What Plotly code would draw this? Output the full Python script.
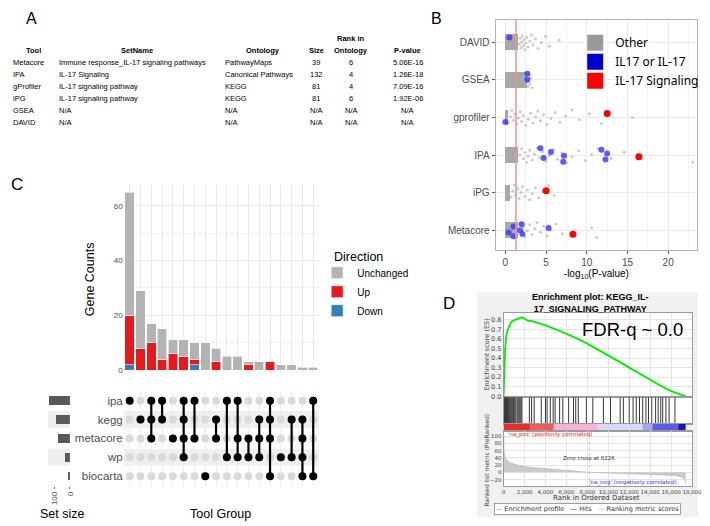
import math
import plotly.graph_objects as go

# the page body adds an 8px margin, and reference positions come out a
# little tight, so they are mapped through both before use
PAD = 8
S = 0.986
W, H = 704, 518


def fx(p):
    return min(1.0, max(0.0, (p / S - PAD) / W))


def fy(p):
    return min(1.0, max(0.0, 1 - (p / S - PAD) / H))


def fpage(p):
    # direct page pixel -> paper fraction (for things that must stay in view)
    return (p - PAD) / W


def jitter(i, k=0):
    # fixed spread inside a category band, stands in for geom_jitter
    return (((i + 1) * 0.6180339887 + k * 0.29) % 1 - 0.5) * 0.42


# ---------------- Panel A : table ----------------
tbl_tools = ["Metacore", "IPA", "gProfiler", "iPG", "GSEA", "DAVID"]
tbl_sets = ["Immune response_IL-17 signaling pathways", "IL-17 Signaling",
            "IL-17 signaling pathway", "IL-17 signaling pathway", "N/A", "N/A"]
tbl_ontology = ["PathwayMaps", "Canonical Pathways", "KEGG", "KEGG", "N/A", "N/A"]
tbl_size = ["39", "132", "81", "81", "N/A", "N/A"]
tbl_rank = ["6", "4", "4", "6", "N/A", "N/A"]
tbl_pval = ["5.06E-16", "1.26E-18", "7.09E-16", "1.92E-06", "N/A", "N/A"]

# ---------------- Panel B : -log10 p by tool ----------------
b_tools = ["DAVID", "GSEA", "gprofiler", "IPA", "iPG", "Metacore"]
b_dense = [1.6, 2.7, 0.35, 1.6, 0.6, 1.6]   # where "Other" pathways pile up
other_david = [1.7, 1.8, 1.9, 2.0, 2.1, 2.2, 2.3, 2.4, 2.5, 2.6, 2.8, 3.0, 3.2, 3.4, 3.7, 4.0, 4.4, 4.9, 5.4, 6.6]
other_gsea = [2.75, 2.8, 2.9, 3.0, 3.1, 3.3]
other_gprofiler = [0.2, 0.4, 0.6, 0.8, 1.0, 1.2, 1.4, 1.6, 1.8, 2.0, 2.2, 2.5, 2.8, 3.1, 3.4, 3.7, 4.0,
                   4.3, 4.7, 5.1, 5.6, 6.1, 6.7, 7.4, 8.2, 9.1, 10.3, 11.8, 15.6]
other_ipa = [1.8, 2.0, 2.2, 2.4, 2.6, 2.8, 3.0, 3.3, 3.6, 3.9, 4.2, 4.6, 5.0, 5.4, 5.9, 6.4, 6.9, 7.5,
             8.2, 9.0, 9.8, 10.6, 11.4, 13.0, 14.6, 23.0]
other_ipg = [0.7, 0.9, 1.1, 1.3, 1.5, 1.7, 1.9, 2.1, 2.4, 2.7, 3.0, 3.3, 3.7, 4.1, 4.6, 5.3, 6.0]
other_metacore = [1.8, 2.0, 2.2, 2.4, 2.7, 3.0, 3.3, 3.6, 3.9, 4.3, 4.7, 5.1, 5.6, 6.2, 7.0, 10.6, 11.2]
il17_david = [0.5]
il17_gsea = [2.7, 2.7]
il17_gprofiler = [0.0]
il17_ipa = [4.3, 4.7, 5.6, 7.1, 7.2, 11.8, 12.3, 12.5]
il17_ipg = []
il17_metacore = [0.4, 1.0, 1.0, 1.8, 2.0, 2.1, 5.3]
sig_tools = ["gprofiler", "IPA", "iPG", "Metacore"]
sig_scores = [12.5, 16.4, 5.0, 8.3]
p_cut = 0.05

# ---------------- Panel C : upset ----------------
c_sets = ["ipa", "kegg", "metacore", "wp", "biocarta"]
c_groups = ["ipa", "kegg", "ipa&kegg&metacore", "ipa&kegg", "metacore", "ipa&kegg&metacore&wp",
            "ipa&metacore", "biocarta", "kegg&metacore", "ipa&wp", "ipa&metacore&wp", "metacore&wp",
            "kegg&metacore&wp", "ipa&kegg&metacore&biocarta", "wp", "kegg&wp",
            "kegg&metacore&wp&biocarta", "ipa&biocarta"]
c_unchanged = [45, 21, 7, 11, 5, 6, 6, 10, 5, 5, 5, 1, 3, 0, 2, 2, 1, 1]
c_up = [18, 8, 10, 4, 6, 5, 2, 0, 3, 0, 0, 2, 0, 3, 0, 0, 0, 0]
c_down = [2, 0, 0, 0, 0, 0, 2, 0, 0, 0, 0, 0, 0, 0, 0, 0, 0, 0]

# ---------------- Panel D : GSEA enrichment plot ----------------
es_rank = [0, 60, 150, 250, 350, 500, 700, 900, 1100, 1300, 1500, 1750, 2000, 2300, 2700, 3200, 4000,
           5000, 6000, 7000, 8000, 9000, 10000, 11000, 12000, 13000, 14000, 15000, 16000, 17000, 17400]
es_score = [0, 0.25, 0.5, 0.62, 0.68, 0.72, 0.77, 0.79, 0.80, 0.81, 0.815, 0.825, 0.81, 0.79, 0.785,
            0.77, 0.74, 0.70, 0.655, 0.605, 0.55, 0.49, 0.43, 0.365, 0.30, 0.235, 0.17, 0.11, 0.055,
            0.015, 0.0]
hit_ranks = [62, 123, 185, 246, 308, 370, 462, 554, 646, 738, 831, 923, 985, 1077, 1169, 1292, 1385,
             1477, 1569, 1662, 1754, 2462, 2677, 2923, 3600, 4000, 4154, 4462, 4738, 4923, 5354, 5662,
             6215, 6677, 6892, 7138, 7908, 8523, 9538, 10215, 11138, 11446, 12000, 12369, 12677, 12985,
             13292, 13600, 13846, 14154, 14523, 14769, 15015, 15200, 15508, 15815, 16369]
metric_rank = [0, 20, 60, 150, 300, 600, 1000, 1500, 2500, 4000, 5600, 7000, 8226, 10000, 12000, 13300,
               15000, 16400, 17000, 17300, 17400]
metric_val = [100, 75, 55, 42, 34, 27, 23, 19, 14, 10, 7.5, 4, 0, -2, -3.5, -5, -7, -9, -13, -20, -32]
zero_cross = 8226
band_edges = [0, 2500, 4800, 9000, 13300, 14200, 16700, 17400]
band_colors = ["#e52d2d", "#f05a5a", "#f5b3d8", "#d7d7f6", "#a3a3ef", "#5c5ce9", "#1414b8"]

fig = go.Figure()

# ---- B traces
fig.add_trace(go.Bar(x=b_dense, y=list(range(len(b_tools))), orientation="h", width=0.42,
                     marker=dict(color="#a8a8a8", line=dict(width=0)), showlegend=False,
                     xaxis="x", yaxis="y"))
b_other = [other_david, other_gsea, other_gprofiler, other_ipa, other_ipg, other_metacore]
ox, oy = [], []
for ti, vals in enumerate(b_other):
    for i, v in enumerate(vals):
        ox.append(v)
        oy.append(ti + jitter(i, ti))
fig.add_trace(go.Scatter(x=ox, y=oy, mode="markers", showlegend=False, xaxis="x", yaxis="y",
                         marker=dict(size=3, color="#a0a0a0", opacity=0.55)))
b_il17 = [il17_david, il17_gsea, il17_gprofiler, il17_ipa, il17_ipg, il17_metacore]
bx, by = [], []
for ti, vals in enumerate(b_il17):
    for i, v in enumerate(vals):
        bx.append(v)
        by.append(ti + jitter(i, ti + 2))
fig.add_trace(go.Scatter(x=bx, y=by, mode="markers", showlegend=False, xaxis="x", yaxis="y",
                         marker=dict(size=6, color="#3d3dff", opacity=0.85)))
fig.add_trace(go.Scatter(x=sig_scores, y=[b_tools.index(t) + jitter(i, 5) * 0.6 for i, t in enumerate(sig_tools)],
                         mode="markers", showlegend=False, xaxis="x", yaxis="y",
                         marker=dict(size=7, color="#ff0000")))
for name, col in [("Other", "#999999"), ("IL17 or IL-17", "#0000cc"), ("IL-17 Signaling", "#ff0000")]:
    fig.add_trace(go.Scatter(x=[None], y=[None], mode="markers", name=name, legend="legend2",
                             marker=dict(symbol="square", size=16, color=col), xaxis="x", yaxis="y"))

# ---- C bars (stack from bottom: Down, Up, Unchanged)
bar_x = list(range(1, len(c_groups) + 1))
for name, vals, col in [("Down", c_down, "#377eb8"), ("Up", c_up, "#e41a1c"),
                        ("Unchanged", c_unchanged, "#b3b3b3")]:
    fig.add_trace(go.Bar(x=bar_x, y=vals, name=name, width=0.88, xaxis="x2", yaxis="y2",
                         marker=dict(color=col, line=dict(color="white", width=0.6)), legend="legend"))

# ---- C matrix
row_of = {s: i + 1 for i, s in enumerate(c_sets)}
gx, gy, kx, ky, lx, ly = [], [], [], [], [], []
for ci, grp in enumerate(c_groups):
    members = [row_of[s] for s in grp.split("&")]
    for r in range(1, len(c_sets) + 1):
        gx.append(ci + 1)
        gy.append(r)
    for r in members:
        kx.append(ci + 1)
        ky.append(r)
    if len(members) > 1:
        lx += [ci + 1, ci + 1, None]
        ly += [min(members), max(members), None]
fig.add_trace(go.Scatter(x=gx, y=gy, mode="markers", showlegend=False, xaxis="x3", yaxis="y3",
                         marker=dict(size=8, color="#dadada")))
fig.add_trace(go.Scatter(x=lx, y=ly, mode="lines", showlegend=False, xaxis="x3", yaxis="y3",
                         line=dict(color="black", width=2.2)))
fig.add_trace(go.Scatter(x=kx, y=ky, mode="markers", showlegend=False, xaxis="x3", yaxis="y3",
                         marker=dict(size=8, color="black")))

group_totals = [u + p + d for u, p, d in zip(c_unchanged, c_up, c_down)]
set_sizes = [sum(t for g, t in zip(c_groups, group_totals) if s in g.split("&")) for s in c_sets]
fig.add_trace(go.Bar(x=set_sizes, y=list(range(1, len(c_sets) + 1)), orientation="h", width=0.45,
                     marker=dict(color="#595959", line=dict(width=0)), showlegend=False,
                     xaxis="x4", yaxis="y4"))

# ---- D
fig.add_trace(go.Scatter(x=es_rank, y=es_score, mode="lines", showlegend=False, xaxis="x5", yaxis="y5",
                         line=dict(color="#00ee00", width=1.8)))
hx, hy = [], []
for h in hit_ranks:
    hx += [h, h, None]
    hy += [0, 1, None]
fig.add_trace(go.Scatter(x=hx, y=hy, mode="lines", showlegend=False, xaxis="x6", yaxis="y6",
                         line=dict(color="#222222", width=0.9)))
n_band = len(band_colors)
fig.add_trace(go.Heatmap(x=band_edges, y=[0, 1], z=[list(range(n_band))], showscale=False,
                         colorscale=[[i / (n_band - 1), c] for i, c in enumerate(band_colors)],
                         zmin=0, zmax=n_band - 1, xaxis="x7", yaxis="y7", hoverinfo="skip"))
fig.add_trace(go.Scatter(x=metric_rank, y=metric_val, mode="lines", fill="tozeroy", showlegend=False,
                         fillcolor="#c9c9c9", line=dict(color="#b5b5b5", width=0.6),
                         xaxis="x8", yaxis="y8"))

# ---------------- layout ----------------
grid = "#ebebeb"
small = dict(size=6.5, color="#444444", family="DejaVu Sans")
d_x = [fx(503), fx(692)]
d_xaxis = dict(domain=d_x, range=[0, 18000], showgrid=False, zeroline=False, showticklabels=False,
               ticks="", showline=True, mirror=True, linecolor="#9a9a9a", linewidth=0.8)

fig.update_layout(
    width=W, height=H, margin=dict(l=0, r=0, t=0, b=0),
    paper_bgcolor="white", plot_bgcolor="white", barmode="stack",
    font=dict(family="Liberation Sans", color="black"),
    # B
    xaxis=dict(domain=[fx(495), fpage(707)], anchor="y", range=[-1.2, 23.55], tick0=0, dtick=5,
               showgrid=True, gridcolor=grid, minor=dict(dtick=2.5, showgrid=True, gridcolor="#f3f3f3"),
               zeroline=False, showline=True, mirror=True, linecolor="#b3b3b3", ticks="outside",
               ticklen=3, tickcolor="#555", tickfont=dict(size=10, color="#4d4d4d"),
               title=dict(text="-log<sub>10</sub>(P-value)", font=dict(size=10), standoff=0)),
    yaxis=dict(domain=[fy(248), fy(20)], anchor="x", range=[5.53, -0.59],
               tickvals=list(range(len(b_tools))), ticktext=b_tools, showgrid=True, gridcolor=grid,
               zeroline=False, showline=True, mirror=True, linecolor="#b3b3b3", ticks="outside",
               ticklen=3, tickcolor="#555", tickfont=dict(size=10, color="#4d4d4d")),
    # C bars
    xaxis2=dict(domain=[fx(122), fx(318)], anchor="y2", range=[0.45, 18.55], tickvals=bar_x,
                showticklabels=False, showgrid=True, gridcolor=grid, zeroline=False, ticks=""),
    yaxis2=dict(domain=[fy(369.7), fy(183.6)], anchor="x2", range=[-1.0, 67.5], tickvals=[0, 20, 40, 60],
                showgrid=True, gridcolor=grid, minor=dict(dtick=10, showgrid=True, gridcolor="#f3f3f3"),
                zeroline=False, ticks="", tickfont=dict(size=8, color="#4d4d4d")),
    # C matrix
    xaxis3=dict(domain=[fx(122), fx(318)], anchor="y3", range=[0.45, 18.55], tickvals=bar_x,
                showticklabels=False, showgrid=True, gridcolor="#efefef", zeroline=False, ticks=""),
    yaxis3=dict(domain=[fy(481.5), fy(388)], anchor="x3", range=[5.5, 0.5],
                tickvals=list(range(1, len(c_sets) + 1)), ticktext=c_sets, showgrid=False,
                zeroline=False, ticks="", tickfont=dict(size=11.5, color="#4d4d4d")),
    # set size
    xaxis4=dict(domain=[fx(46), fx(68)], anchor="y4", range=[138, 0], tickvals=[0, 100], tickangle=-90,
                showgrid=False, zeroline=False, ticks="outside", ticklen=2, tickcolor="#777",
                tickfont=dict(size=8, color="#4d4d4d")),
    yaxis4=dict(domain=[fy(481.5), fy(388)], anchor="x4", range=[5.5, 0.5], showticklabels=False,
                showgrid=False, zeroline=False, ticks=""),
    # D
    xaxis5=dict(d_xaxis, anchor="y5", showgrid=True, gridcolor="#e4e4e4", dtick=2000),
    yaxis5=dict(domain=[fy(394), fy(310)], anchor="x5", range=[-0.01, 0.874], dtick=0.1,
                tickformat=".1f", showgrid=True, gridcolor="#e4e4e4", zeroline=False, ticks="",
                showline=True, mirror=True, linecolor="#9a9a9a", linewidth=0.8, tickfont=small),
    xaxis6=dict(d_xaxis, anchor="y6"),
    yaxis6=dict(domain=[fy(420), fy(394)], anchor="x6", range=[0, 1], showticklabels=False,
                showgrid=False, zeroline=False, ticks="", showline=True, mirror=True,
                linecolor="#9a9a9a", linewidth=0.8),
    xaxis7=dict(d_xaxis, anchor="y7"),
    yaxis7=dict(domain=[fy(427), fy(420)], anchor="x7", range=[0, 1], showticklabels=False,
                showgrid=False, zeroline=False, ticks=""),
    xaxis8=dict(d_xaxis, anchor="y8", showticklabels=True, dtick=2000, tickformat=",", tickangle=0,
                showgrid=True, gridcolor="#e4e4e4", tickfont=dict(small, size=5.5)),
    yaxis8=dict(domain=[fy(482), fy(427)], anchor="x8", range=[-38, 116], tickvals=[-20, 0, 20, 40, 60, 80, 100],
                showgrid=True, gridcolor="#e4e4e4", zeroline=False, ticks="", showline=True, mirror=True,
                linecolor="#9a9a9a", linewidth=0.8, tickfont=dict(small, size=5.5)),
    legend=dict(x=fx(316), y=fy(256), xanchor="left", yanchor="top", traceorder="reversed",
                font=dict(size=10), bgcolor="rgba(0,0,0,0)", tracegroupgap=0),
    legend2=dict(x=fpage(583), y=fy(28), xanchor="left", yanchor="top", traceorder="normal",
                 font=dict(size=12, family="Noto Sans"), bgcolor="rgba(0,0,0,0)", itemsizing="trace"),
)

shapes = []
# significance cut in B
thr = -math.log10(p_cut)
shapes.append(dict(type="line", xref="x", yref="y domain", x0=thr, x1=thr, y0=0, y1=1,
                   line=dict(color="#ff8c8c", width=1.5)))
# alternating row bands in the upset matrix
for r in range(2, len(c_sets) + 1, 2):
    for ax in ["x3", "x4"]:
        shapes.append(dict(type="rect", xref=ax + " domain", yref="y3", x0=0, x1=1, y0=r - 0.45,
                           y1=r + 0.45, fillcolor="#efefef", line=dict(width=0), layer="below"))
# GSEA screenshot background and white plot areas
shapes.append(dict(type="rect", xref="paper", yref="paper", x0=fx(476), x1=fx(698), y0=fy(513),
                   y1=fy(290), fillcolor="#f1f1f1", line=dict(width=0), layer="below"))
for n in ["5", "6", "8"]:
    shapes.append(dict(type="rect", xref="x" + n + " domain", yref="y" + n + " domain", x0=0, x1=1,
                       y0=0, y1=1, fillcolor="white", line=dict(width=0), layer="below"))
shapes.append(dict(type="line", xref="x8", yref="y8 domain", x0=zero_cross, x1=zero_cross, y0=0, y1=1,
                   line=dict(color="#bbbbbb", width=0.8, dash="dot")))
fig.update_layout(shapes=shapes)

ann = []


def note(text, x, y, size, xanchor="center", yanchor="middle", **kw):
    ann.append(dict(text=text, x=fx(x), y=fy(y), xref="paper", yref="paper", showarrow=False,
                    xanchor=xanchor, yanchor=yanchor, font=dict(size=size, **kw.pop("font", {})), **kw))


# panel letters
note("A", 29, 8, 16, yanchor="top")
note("B", 436, 8, 16, yanchor="top")
note("C", 15, 183, 17)
note("D", 448, 301, 17)

# table
tf = 7.5
note("<b>Tool</b>", 31, 50, tf)
note("<b>SetName</b>", 135, 50, tf)
note("<b>Ontology</b>", 262, 50, tf)
note("<b>Size</b>", 315, 50, tf)
note("<b>Rank in</b>", 350, 38, tf)
note("<b>Ontology</b>", 350, 50, tf)
note("<b>P-value</b>", 407, 50, tf)
for i in range(len(tbl_tools)):
    y = 62 + i * 11.8
    note(tbl_tools[i], 9, y, tf, xanchor="left")
    note(tbl_sets[i], 55, y, tf, xanchor="left")
    note(tbl_ontology[i], 222, y, tf, xanchor="left")
    note(tbl_size[i], 315, y, tf)
    note(tbl_rank[i], 350, y, tf)
    note(tbl_pval[i], 407, y, tf)

# C labels
note("Gene Counts", 88, 277, 12.5, textangle=-90)
note("Direction", 331, 255, 12.5, xanchor="left")
note("Set size", 61, 510, 12.5)
note("Tool Group", 219, 510, 12.5)

# D labels
note("<b>Enrichment plot: KEGG_IL-<br>17_SIGNALING_PATHWAY</b>", 590, 300, 9)
note("FDR-q ~ 0.0", 632, 327, 18.5)
note("Enrichment score (ES)", 486, 352, 6.5, textangle=-90, font=dict(family="DejaVu Sans", color="#444"))
note("Ranked list metric (PreRanked)", 486, 456, 6, textangle=-90, font=dict(family="DejaVu Sans", color="#444"))
note("Rank in Ordered Dataset", 596, 494, 7, font=dict(family="DejaVu Sans", color="#333"))
note("'na_pos' (positively correlated)", 505, 431, 5.5, xanchor="left", font=dict(family="DejaVu Sans", color="#ff2020"))
note("Zero cross at " + str(zero_cross), 589, 454, 5.5, font=dict(family="DejaVu Sans", color="#333"))
note("'na_neg' (negatively correlated)", 633, 478, 5.5, font=dict(family="DejaVu Sans", color="#3030ff"))
note("<span style='color:#00ee00'>—</span> Enrichment profile   <span style='color:#222'>—</span> Hits   "
     "<span style='color:#bbbbbb'>—</span> Ranking metric scores", 587, 505, 6.5,
     font=dict(family="DejaVu Sans", color="#333"), bgcolor="white", bordercolor="#888", borderwidth=0.8,
     borderpad=1)

fig.update_layout(annotations=ann)

fig.write_html("out.html")
